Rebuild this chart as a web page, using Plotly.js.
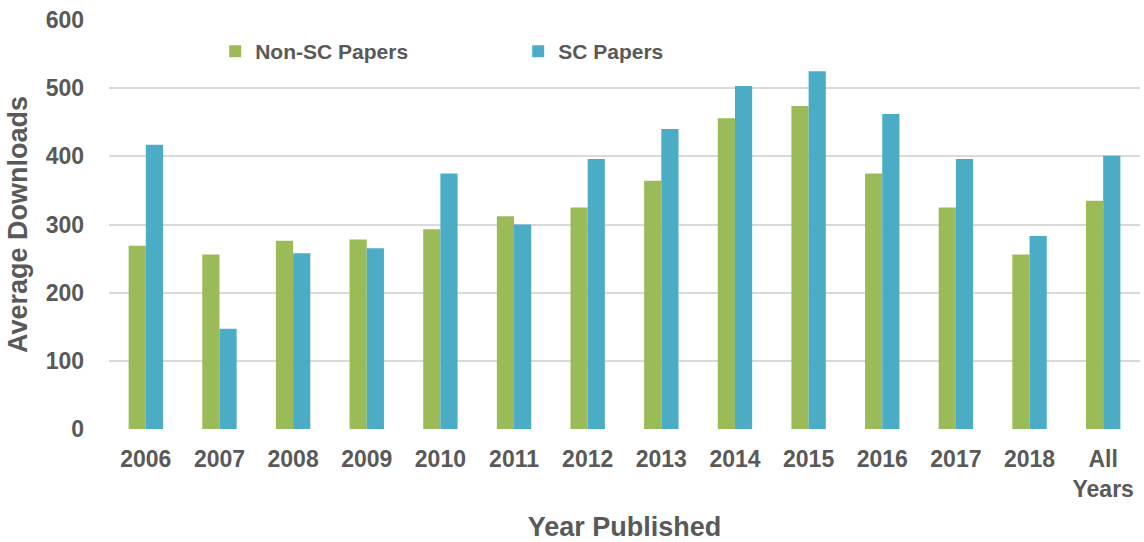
<!DOCTYPE html>
<html>
<head>
<meta charset="utf-8">
<script src="https://cdn.plot.ly/plotly-3.0.1.min.js"></script>
<style>html,body{margin:0;padding:0;background:#fff;}#chart{width:1144px;height:542px;}</style>
</head>
<body>
<div id="chart"></div>
<script>
const categories = ["2006","2007","2008","2009","2010","2011","2012","2013","2014","2015","2016","2017","2018","All<br>Years"];
const nonSC = [269, 256, 276, 278, 293, 312, 325, 364, 456, 474, 375, 325, 256, 335];
const sc = [417, 147, 258, 265, 375, 300, 396, 440, 503, 525, 462, 396, 283, 401];
const yTicks = [0, 100, 200, 300, 400, 500, 600];

const textColor = "#595959";
const fontFam = "Liberation Sans, Arial, sans-serif";

const traces = [
  {type: "bar", name: "Non-SC Papers", x: categories, y: nonSC, marker: {color: "#9BBB59"}, hoverinfo: "x+y"},
  {type: "bar", name: "SC Papers", x: categories, y: sc, marker: {color: "#4BACC6"}, hoverinfo: "x+y"}
];

const layout = {
  width: 1144, height: 542,
  margin: {l: 109, r: 4, t: 20, b: 113, pad: 0},
  paper_bgcolor: "#fff", plot_bgcolor: "#fff",
  barmode: "group", bargap: 0.533, bargroupgap: 0,
  font: {family: fontFam, color: textColor, size: 22, weight: "bold"},
  showlegend: true,
  legend: {
    orientation: "h", xref: "paper", yref: "paper",
    x: 0.103, y: 0.923, xanchor: "left", yanchor: "middle",
    bgcolor: "rgba(0,0,0,0)", borderwidth: 0,
    font: {family: fontFam, size: 21, color: textColor, weight: "bold"},
    entrywidth: 258, entrywidthmode: "pixels", traceorder: "normal"
  },
  xaxis: {
    type: "category", automargin: false,
    showgrid: false, showline: false, zeroline: false, ticks: "",
    tickfont: {family: fontFam, size: 23, color: textColor, weight: "bold"},
    ticklabelstandoff: 14,
    title: {text: "Year Published", font: {family: fontFam, size: 27, color: textColor, weight: "bold"}, standoff: 20}
  },
  yaxis: {
    range: [0, 600], tickvals: yTicks, automargin: false,
    showgrid: true, gridcolor: "#d9d9d9", gridwidth: 2,
    zeroline: false, showline: false, ticks: "",
    tickfont: {family: fontFam, size: 23, color: textColor, weight: "bold"},
    ticklabelstandoff: 24,
    title: {text: "Average Downloads", font: {family: fontFam, size: 27, color: textColor, weight: "bold"}, standoff: 10}
  }
};

Plotly.newPlot("chart", traces, layout, {displayModeBar: false, staticPlot: true});
</script>
</body>
</html>
